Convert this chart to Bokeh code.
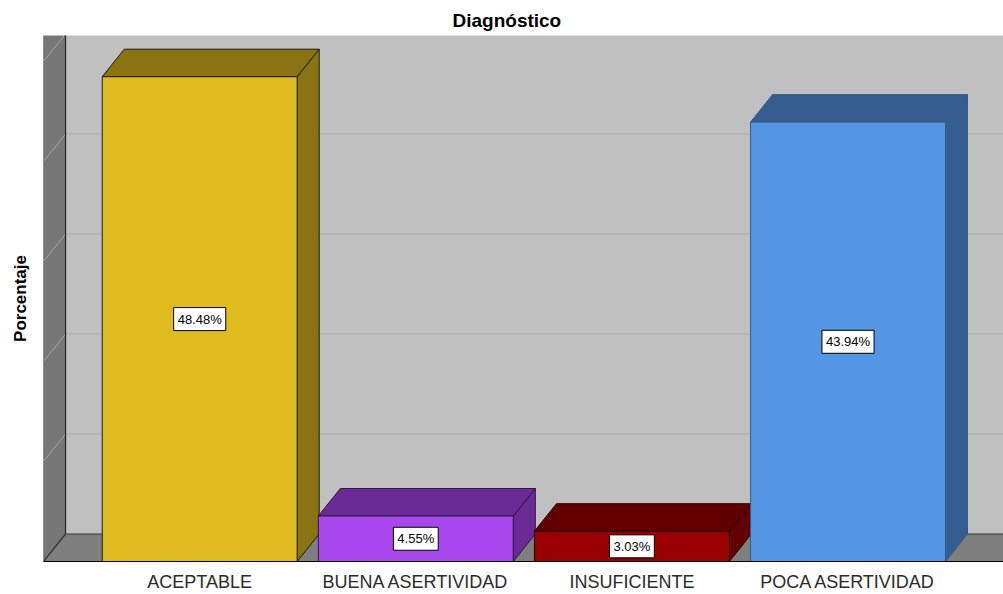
from bokeh.plotting import figure
from bokeh.models import Range1d, FixedTicker, Label
from bokeh.embed import file_html
from bokeh.resources import INLINE

# Diagnóstico: percentage of each category
categories = ["ACEPTABLE", "BUENA ASERTIVIDAD", "INSUFICIENTE", "POCA ASERTIVIDAD"]
percentages = [48.48, 4.55, 3.03, 43.94]
front_colors = ["#E0BB1F", "#AA48EF", "#990000", "#5496E3"]
shade_colors = ["#8A7313", "#6A2B97", "#620000", "#355D8F"]
edge_colors = ["#1E1A05", "#2E1542", "#2A0000", "#3A5A82"]
grid_values = [10, 20, 30, 40, 50]

FONT = "Liberation Sans"

# pseudo-3D depth (x in category units, y in percent units)
DX = 0.102
DY = 2.75
BAR_W = 0.902
X0, X1 = -0.7228, 3.7196
Y0, Y1 = 0.0, 52.6
TOP = 80.0

p = figure(width=1003, height=594, output_backend="svg", toolbar_location=None,
           x_range=Range1d(X0, X1), y_range=Range1d(Y0, Y1),
           min_border_left=43, min_border_right=0, min_border_top=35,
           min_border_bottom=33, title="Diagnóstico")
p.background_fill_color = "white"
p.border_fill_color = "white"
p.outline_line_color = None
p.xgrid.visible = False
p.ygrid.visible = False

p.title.align = "left"
p.title.offset = 409
p.title.text_font = FONT
p.title.text_font_size = "19px"
p.title.text_font_style = "bold"
p.title.text_color = "#000000"

# back wall
p.quad(left=X0 + DX, right=X1 + 1, bottom=DY, top=TOP,
       fill_color="#C0C0C0", line_color=None)
# gridlines on back wall
p.segment(x0=[X0 + DX] * len(grid_values), y0=[g + DY for g in grid_values],
          x1=[X1 + 1] * len(grid_values), y1=[g + DY for g in grid_values],
          line_color="#ABABAB", line_width=1)

# left wall
p.patch(x=[X0, X0 + DX, X0 + DX, X0], y=[0, DY, TOP, TOP],
        fill_color="#777777", line_color=None)
p.segment(x0=[X0] * len(grid_values), y0=grid_values,
          x1=[X0 + DX] * len(grid_values), y1=[g + DY for g in grid_values],
          line_color="#A6A6A6", line_width=1)

# floor
p.patch(x=[X0, X1 + 1, X1 + 1 + DX, X0 + DX], y=[0, 0, DY, DY],
        fill_color="#7F7F7F", line_color=None)

# wall edges
p.segment(x0=[X0 + DX, X0 + DX, X0, X0], y0=[DY, DY, 0, 0],
          x1=[X1 + 1, X0 + DX, X0 + DX, X0], y1=[DY, TOP, DY, TOP],
          line_color=["#333333", "#222222", "#333333", "#4A4A4A"], line_width=1.2)

# bars: side face, top face, front face
xs = list(range(len(categories)))
side_x, side_y, top_x, top_y = [], [], [], []
for i, v in zip(xs, percentages):
    r = i + BAR_W / 2
    l = i - BAR_W / 2
    side_x.append([r, r + DX, r + DX, r])
    side_y.append([0, DY, v + DY, v])
    top_x.append([l, r, r + DX, l + DX])
    top_y.append([v, v, v + DY, v + DY])

p.patches(xs=side_x, ys=side_y, fill_color=shade_colors, line_color=edge_colors, line_width=1)
p.patches(xs=top_x, ys=top_y, fill_color=shade_colors, line_color=edge_colors, line_width=1)
p.vbar(x=xs, top=percentages, bottom=0, width=BAR_W,
       fill_color=front_colors, line_color=edge_colors, line_width=1)

# value labels in the middle of each front face
for i, v in zip(xs, percentages):
    p.add_layout(Label(x=i, y=v / 2, text=f"{v:.2f}%", text_align="center",
                       text_baseline="middle", text_font=FONT, text_font_size="13px",
                       text_color="#000000", background_fill_color="white",
                       border_line_color="#000000", border_line_width=1, padding=4))

# axes
p.xaxis.ticker = FixedTicker(ticks=xs)
p.xaxis.major_label_overrides = {i: c for i, c in zip(xs, categories)}
p.xaxis.major_label_text_font = FONT
p.xaxis.major_label_text_font_size = "18px"
p.xaxis.major_label_text_color = "#2B2B2B"
p.xaxis.major_label_standoff = 4
p.xaxis.major_tick_line_color = None
p.xaxis.minor_tick_line_color = None
p.xaxis.axis_line_color = "#000000"

p.yaxis.ticker = FixedTicker(ticks=[])
p.yaxis.axis_label = "Porcentaje"
p.yaxis.axis_label_text_font = FONT
p.yaxis.axis_label_text_font_size = "17px"
p.yaxis.axis_label_text_font_style = "bold"
p.yaxis.axis_label_text_color = "#000000"
p.yaxis.axis_label_standoff = 14
p.yaxis.major_tick_line_color = None
p.yaxis.minor_tick_line_color = None
p.yaxis.axis_line_color = None

open("out.html", "w").write(file_html(p, INLINE))
